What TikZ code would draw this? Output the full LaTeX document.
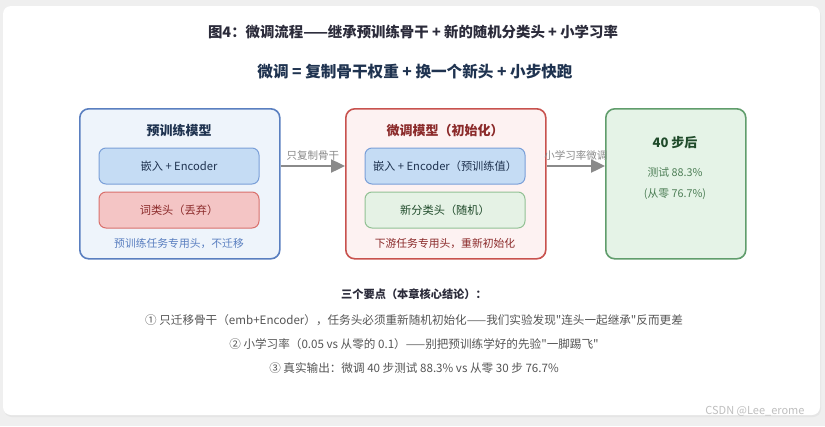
\documentclass[tikz,border=0pt]{standalone}
\usepackage{fontspec}
\setmainfont{Noto Sans CJK SC}[Ligatures=TeXOff]
\usetikzlibrary{arrows.meta,positioning}
\definecolor{pageback}{HTML}{EFEFEF}
\definecolor{titleink}{HTML}{2B2B3A}
\definecolor{subink}{HTML}{1F3350}
\definecolor{preline}{HTML}{5A7FC0}
\definecolor{prefill}{HTML}{EEF4FB}
\definecolor{encline}{HTML}{7A9FD8}
\definecolor{encfill}{HTML}{C5DCF4}
\definecolor{dropline}{HTML}{D9706C}
\definecolor{dropfill}{HTML}{F4C5C5}
\definecolor{ftline}{HTML}{C8524E}
\definecolor{ftfill}{HTML}{FDF2F2}
\definecolor{ftink}{HTML}{8B2A2A}
\definecolor{headline}{HTML}{92C194}
\definecolor{headfill}{HTML}{E5F2E5}
\definecolor{resline}{HTML}{609D6C}
\definecolor{resfill}{HTML}{E5F3E7}
\definecolor{resink}{HTML}{1F4A2A}
\definecolor{arrowgray}{HTML}{8A8A8A}
\definecolor{noteink}{HTML}{555555}
\begin{document}
\begin{tikzpicture}[x=1pt,y=-1pt,
    bigbox/.style={draw, line width=1.6pt, rounded corners=9pt, anchor=north west,
      minimum height=150pt, inner sep=0pt},
    partbox/.style={draw, line width=1pt, rounded corners=7pt, minimum width=160pt,
      minimum height=36pt, inner sep=0pt, font=\fontsize{11.2}{13}\selectfont},
    boxtitle/.style={font=\fontsize{13}{15}\bfseries},
    smallnote/.style={font=\fontsize{10.8}{12}\selectfont},
    flow/.style={draw=arrowgray, line width=2.4pt, -{Triangle[length=14pt,width=13pt]}},
    flowlabel/.style={above=4pt, text=arrowgray, font=\fontsize{10.5}{12}\selectfont, inner sep=0pt},
    keypoint/.style={text=noteink, font=\fontsize{11.6}{13}\selectfont}]
  % page and card
  \fill[pageback] (0,0) rectangle (825,426);
  \fill[black!10] (4,8) [rounded corners=8pt] rectangle (821,417);
  \fill[white] (3,6) [rounded corners=8pt] rectangle (820,415);
  \useasboundingbox (0,0) rectangle (825,426);

  % headings
  \node[text=titleink, font=\fontsize{14.4}{16}\bfseries] (title) at (413,32)
    {图4：微调流程——继承预训练骨干 + 新的随机分类头 + 小学习率};
  \node[text=subink, font=\fontsize{15.6}{18}\bfseries] (subtitle) at (415,72)
    {微调 = 复制骨干权重 + 换一个新头 + 小步快跑};

  % pretrained model
  \node[bigbox, draw=preline, fill=prefill, minimum width=200pt] (pre) at (79,108) {};
  \node[boxtitle, text=subink] (pretitle) at (179,131) {预训练模型};
  \node[partbox, draw=encline, fill=encfill, text=subink] (preenc) at (179,166) {嵌入 + Encoder};
  \node[partbox, draw=dropline, fill=dropfill, text=ftink] (prehead) at (179,210) {词类头（丢弃）};
  \node[smallnote, text=preline] (prenote) at (179,244) {预训练任务专用头，不迁移};

  % fine-tuned model
  \node[bigbox, draw=ftline, fill=ftfill, minimum width=200pt] (ft) at (345,108) {};
  \node[boxtitle, text=ftink] (fttitle) at (445,131) {微调模型（初始化）};
  \node[partbox, draw=encline, fill=encfill, text=subink] (ftenc) at (445,166) {嵌入 + Encoder（预训练值）};
  \node[partbox, draw=headline, fill=headfill, text=resink] (fthead) at (445,210) {新分类头（随机）};
  \node[smallnote, text=ftink] (ftnote) at (445,244) {下游任务专用头，重新初始化};

  % result
  \node[bigbox, draw=resline, fill=resfill, minimum width=140pt] (res) at (605,108) {};
  \node[boxtitle, text=resink] (restitle) at (675,143) {40 步后};
  \node[smallnote, text=resline!80!black] (restest) at (675,172) {测试 88.3\%};
  \node[smallnote, text=resline!80!black] (resscratch) at (675,194) {(从零 76.7\%)};

  % arrows
  \draw[flow] (pre.east |- preenc) -- (ft.west |- preenc)
    node[midway, flowlabel] {只复制骨干};
  \draw[flow] (ft.east |- ftenc) -- (res.west |- ftenc)
    node[midway, flowlabel] {小学习率微调};

  % key points
  \node[text=titleink, font=\fontsize{11.2}{13}\bfseries] (keyhead) at (414,294) {三个要点（本章核心结论）：};
  \node[keypoint] (keyone) at (414,320)
    {① 只迁移骨干（emb+Encoder），任务头必须重新随机初始化——我们实验发现"连头一起继承"反而更差};
  \node[keypoint] (keytwo) at (414,344)
    {② 小学习率（0.05 vs 从零的 0.1）——别把预训练学好的先验"一脚踢飞"};
  \node[keypoint] (keythree) at (414,368)
    {③ 真实输出：微调 40 步测试 88.3\% vs 从零 30 步 76.7\%};

  \node[text=black!25, font=\fontsize{11}{12}\selectfont, anchor=east] (mark) at (808,411) {CSDN @Lee\_erome};
\end{tikzpicture}
\end{document}
